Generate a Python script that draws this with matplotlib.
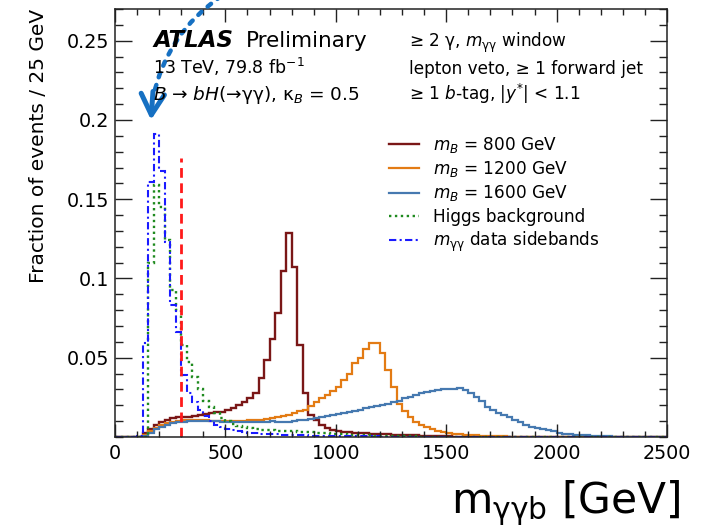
import numpy as np
import matplotlib
matplotlib.use("Agg")
import matplotlib.pyplot as plt
from matplotlib.ticker import MultipleLocator

plt.rcParams["font.family"] = ["DejaVu Sans"]
plt.rcParams["mathtext.fontset"] = "dejavusans"

# ---- binning: 25 GeV bins from 0 to 2500 GeV ----
bin_width = 25
n_bins = 100

# normalised m_yyb distributions (fraction of events per bin)
m800 = [
    0, 0, 0, 0, 0,
    0.0025, 0.005, 0.0076, 0.0095, 0.0107,
    0.012, 0.0124, 0.0126, 0.0128, 0.013,
    0.014, 0.0145, 0.015, 0.0155, 0.016,
    0.017, 0.0185, 0.020, 0.022, 0.0245,
    0.0278, 0.037, 0.0485, 0.0616, 0.078,
    0.105, 0.129, 0.107, 0.058, 0.0277,
    0.014, 0.0105, 0.0076, 0.0055, 0.0045,
    0.0038, 0.0033, 0.003, 0.0028, 0.0026,
    0.0024, 0.0022, 0.002, 0.0018, 0.0016,
    0.0015, 0.0013, 0.0012, 0.0011, 0.001,
    0.0009, 0.0008, 0.0007, 0.0006, 0.0005,
    0.0004, 0.0003, 0.0003, 0.0002, 0.0002,
    0.0001, 0.0001, 0.0001, 0.0001, 0.0001,
] + [0] * 30

m1200 = [
    0, 0, 0, 0, 0,
    0.001, 0.0035, 0.0058, 0.0075, 0.0088,
    0.0097, 0.0103, 0.0107, 0.011, 0.011,
    0.0108, 0.0105, 0.0102, 0.0100, 0.0099,
    0.0099, 0.0100, 0.0101, 0.0103, 0.0105,
    0.0107, 0.0109, 0.0113, 0.0118, 0.0124,
    0.0132, 0.014, 0.0152, 0.0163, 0.017,
    0.0195, 0.0222, 0.0245, 0.0265, 0.0288,
    0.0318, 0.036, 0.040, 0.0465, 0.050,
    0.0553, 0.059, 0.059, 0.053, 0.042,
    0.0317, 0.021, 0.0165, 0.0125, 0.0095,
    0.0075, 0.006, 0.0048, 0.004, 0.0033,
    0.0027, 0.0022, 0.0018, 0.0015, 0.0012,
    0.001, 0.0008, 0.0007, 0.0006, 0.0005,
    0.0004, 0.0003, 0.0003, 0.0002, 0.0002,
    0.0001, 0.0001, 0.0001, 0.0001, 0.0001,
] + [0] * 20

m1600 = [
    0, 0, 0, 0, 0,
    0.0008, 0.0028, 0.0048, 0.0066, 0.0078,
    0.0087, 0.0093, 0.0097, 0.0100, 0.0102,
    0.0103, 0.0102, 0.0100, 0.0098, 0.0097,
    0.0097, 0.0096, 0.0096, 0.0096, 0.0097,
    0.0097, 0.0097, 0.0097, 0.0098, 0.0097,
    0.0093, 0.0092, 0.0100, 0.0105, 0.0110,
    0.0115, 0.0122, 0.0127, 0.0130, 0.0137,
    0.0145, 0.0150, 0.0157, 0.0165, 0.0172,
    0.0180, 0.0188, 0.0195, 0.0200, 0.0210,
    0.0220, 0.0230, 0.0245, 0.0255, 0.0265,
    0.0277, 0.0286, 0.0290, 0.0296, 0.0300,
    0.0300, 0.0302, 0.0307, 0.0296, 0.0280,
    0.0255, 0.0225, 0.0190, 0.0168, 0.0152,
    0.0140, 0.0125, 0.0108, 0.0092, 0.0078,
    0.0066, 0.0056, 0.0049, 0.0042, 0.0035,
    0.0028, 0.0022, 0.0018, 0.0015, 0.0012,
    0.0010, 0.0008, 0.0006, 0.0005, 0.0004,
    0.0003, 0.0003, 0.0002, 0.0002, 0.0001,
    0.0001, 0.0001, 0, 0, 0,
]

higgs_bkg = [
    0, 0, 0, 0, 0,
    0, 0.110, 0.159, 0.145, 0.124,
    0.093, 0.080, 0.058, 0.047, 0.038,
    0.030, 0.023, 0.019, 0.015, 0.012,
    0.010, 0.008, 0.0068, 0.006, 0.0055,
    0.005, 0.0047, 0.0045, 0.0043, 0.0041,
    0.0039, 0.0037, 0.0035, 0.0033, 0.0031,
    0.0029, 0.0027, 0.0025, 0.0023, 0.0021,
    0.0019, 0.0017, 0.0015, 0.0013, 0.0012,
    0.0011, 0.0010, 0.0009, 0.0008, 0.0007,
    0.0006, 0.0005, 0.0005, 0.0004, 0.0004,
    0.0003, 0.0003, 0.0003, 0.0002, 0.0002,
    0.0002, 0.0001, 0.0001, 0.0001, 0.0001,
] + [0] * 35

sidebands = [
    0, 0, 0, 0, 0.0005,
    0.059, 0.161, 0.191, 0.168, 0.123,
    0.083, 0.066, 0.039, 0.028, 0.022,
    0.017, 0.013, 0.010, 0.0075, 0.006,
    0.005, 0.0042, 0.0036, 0.0032, 0.0028,
    0.0025, 0.0022, 0.0020, 0.0018, 0.0016,
    0.0015, 0.0013, 0.0012, 0.0011, 0.0010,
    0.0009, 0.0008, 0.0008, 0.0007, 0.0007,
    0.0006, 0.0006, 0.0005, 0.0005, 0.0005,
    0.0004, 0.0004, 0.0004, 0.0003, 0.0003,
    0.0003, 0.0003, 0.0002, 0.0002, 0.0002,
    0.0002, 0.0002, 0.0001, 0.0001, 0.0001,
    0.0001, 0.0001, 0.0001,
] + [0] * 37

# m_yyb selection threshold shown as a vertical dashed line
cut_value = 300
cut_height = 0.176

x_ticks = [0, 500, 1000, 1500, 2000, 2500]
y_ticks = [0.05, 0.1, 0.15, 0.2, 0.25]
y_tick_labels = ["0.05", "0.1", "0.15", "0.2", "0.25"]

series = [
    (m800, r"$m_{B}$ = 800 GeV", "#7a1717", "-", 1.7),
    (m1200, r"$m_{B}$ = 1200 GeV", "#e37b14", "-", 1.6),
    (m1600, r"$m_{B}$ = 1600 GeV", "#4679b0", "-", 1.6),
    (higgs_bkg, "Higgs background", "#1e8a1e", (0, (1, 1.5)), 1.7),
    (sidebands, r"$m_{\mathrm{γγ}}$ data sidebands", "#1a1aff", (0, (3.5, 1.6, 1, 1.6)), 1.5),
]

W, H = 710, 528
fig = plt.figure(figsize=(W / 100, H / 100), dpi=100)
ax = fig.add_axes([115 / W, 1 - 437 / H, (667 - 115) / W, (437 - 9) / H])

edges = np.arange(n_bins + 1) * bin_width
for vals, label, color, ls, lw in series:
    ax.stairs(np.asarray(vals, dtype=float), edges, baseline=0, color=color,
              linestyle=ls, linewidth=lw, label=label)

ax.plot([cut_value, cut_value], [0, cut_height], color="#ff1a1a",
        linestyle=(0, (3.5, 2)), linewidth=2.0)

ax.set_xlim(0, 2500)
ax.set_ylim(0, 0.27)
ax.set_xticks(x_ticks)
ax.set_xticklabels([str(t) for t in x_ticks])
ax.set_yticks(y_ticks)
ax.set_yticklabels(y_tick_labels)
ax.xaxis.set_minor_locator(MultipleLocator(100))
ax.yaxis.set_minor_locator(MultipleLocator(0.01))

ax.tick_params(which="both", direction="in", top=True, right=True,
               width=1.0, colors="#222222", labelcolor="black")
ax.tick_params(axis="y", which="major", length=12, labelsize=13.8, pad=4)
ax.tick_params(axis="y", which="minor", length=6)
ax.tick_params(axis="x", which="major", length=9.5, labelsize=13.8, pad=5)
ax.tick_params(axis="x", which="minor", length=4.5)
for s in ax.spines.values():
    s.set_linewidth(1.1)
    s.set_color("#222222")

ax.set_ylabel("Fraction of events / 25 GeV", fontsize=14.5, loc="top", labelpad=14)

fig.text(681 / W, 1 - 513 / H, r"m$_{\mathrm{γγb}}$ [GeV]", fontsize=30.5,
         ha="right", va="baseline")

# experiment label and selection description
fig.text(153 / W, 1 - 46.7 / H, "ATLAS", fontsize=16.5, fontweight="bold",
         fontstyle="italic", va="baseline")
fig.text(246 / W, 1 - 46.7 / H, "Preliminary", fontsize=15.5, va="baseline")
fig.text(153 / W, 1 - 74 / H, r"13 TeV, 79.8 fb$^{\mathrm{-1}}$", fontsize=12.5,
         va="baseline")
fig.text(153 / W, 1 - 100 / H, r"$B$ → $bH$(→γγ), κ$_{B}$ = 0.5",
         fontsize=13.3, va="baseline")

fig.text(409 / W, 1 - 46.7 / H, r"≥ 2 γ, $m_{\mathrm{γγ}}$ window", fontsize=12.2,
         va="baseline")
fig.text(409 / W, 1 - 74 / H, "lepton veto, ≥ 1 forward jet", fontsize=12.2,
         va="baseline")
fig.text(409 / W, 1 - 100 / H, r"≥ 1 $b$-tag, |$y^{*}$| < 1.1", fontsize=12.2,
         va="baseline")

leg = ax.legend(loc="upper left", bbox_to_anchor=(389 / W, 1 - 135 / H),
                bbox_transform=fig.transFigure, frameon=False, fontsize=12.2,
                handlelength=1.75, handletextpad=0.85, labelspacing=0.25,
                borderpad=0, borderaxespad=0)

# pointer arrow drawn over the low-mass peak
arrow_col = "#1670c2"
tip = (163, 0.2)
tail = (480, 0.278)
ax.annotate("", xy=(172, 0.214), xytext=tail, xycoords="data",
            arrowprops=dict(arrowstyle="-", linestyle=(0, (1, 1.8)), lw=3.2,
                            color=arrow_col, connectionstyle="arc3,rad=0.2",
                            shrinkA=0, shrinkB=0), annotation_clip=False)
ax.annotate("", xy=tip, xytext=(172, 0.218), xycoords="data",
            arrowprops=dict(arrowstyle="->,head_length=0.75,head_width=0.42",
                            lw=3.6, color=arrow_col, mutation_scale=20,
                            shrinkA=0, shrinkB=0), annotation_clip=False)

fig.savefig("out.png", dpi=100)
